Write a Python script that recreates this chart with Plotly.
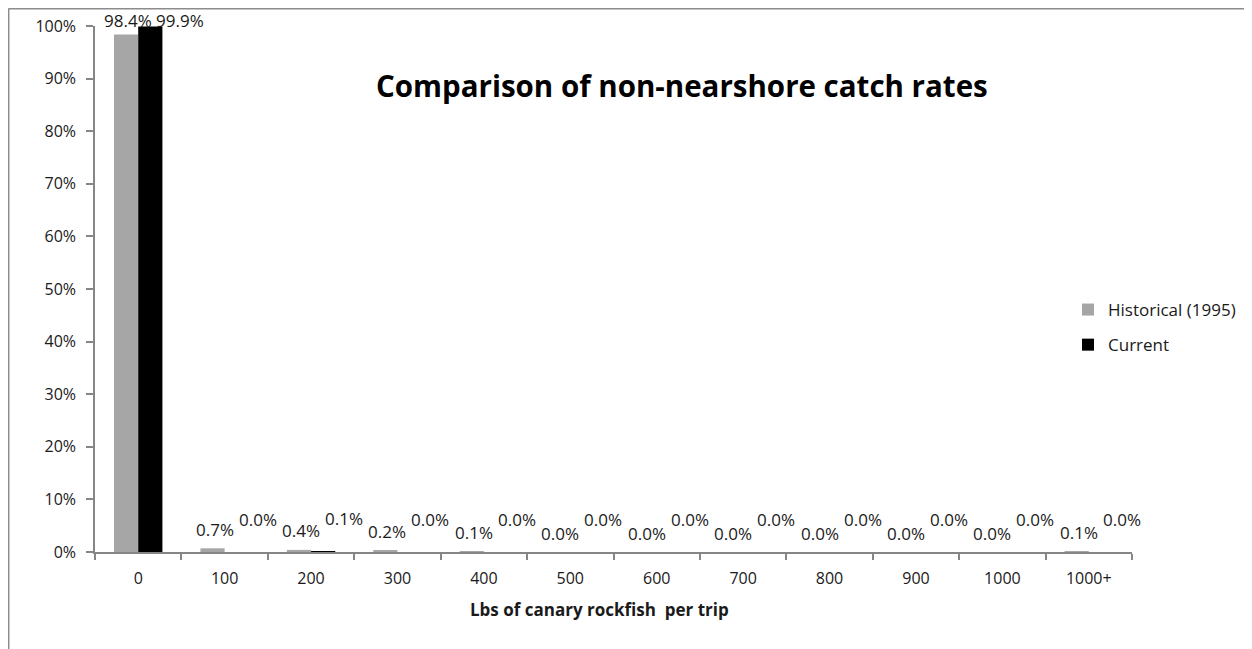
import plotly.graph_objects as go

categories = ["0", "100", "200", "300", "400", "500", "600", "700", "800", "900", "1000", "1000+"]
historical = [98.4, 0.7, 0.4, 0.2, 0.1, 0.0, 0.0, 0.0, 0.0, 0.0, 0.0, 0.1]
current = [99.9, 0.0, 0.1, 0.0, 0.0, 0.0, 0.0, 0.0, 0.0, 0.0, 0.0, 0.0]
series_names = ["Historical (1995)", "Current"]
series_colors = ["#A6A6A6", "#000000"]

FONT = "Open Sans, Lato, sans-serif"
LABEL_SIZE = 17
W, H = 1252, 649
OFF = 8  # page body margin
# plot area in page pixels: x 95..1132, y 26..552
PL, PR, PT, PB = 95, 1132, 26, 552
ML = PL - OFF
MT = PT - OFF
MR = W - (PR - OFF)
MB = H - (PB - OFF)
plot_w = PR - PL
plot_h = PB - PT
px_per_unit = plot_h / 100.0


def px_to_paper_x(px):
    return (px - PL) / plot_w


def px_to_paper_y(py):
    return (PB - py) / plot_h


def text_w(s):
    return len(s) * 0.56 * LABEL_SIZE


fig = go.Figure()
for name, vals, col in zip(series_names, [historical, current], series_colors):
    fig.add_trace(go.Bar(
        x=categories, y=vals, name=name, marker=dict(color=col, line=dict(width=0)),
        legendgroup=name,
    ))

# data labels (Excel-style, placed above each bar, nudged apart when they collide)
label_cfg = [(-10, 19), (33, 33)]  # (xshift px, preferred yshift px) per series
annotations = []
for i in range(len(categories)):
    placed = []
    for (dx, dy), vals in zip(label_cfg, [historical, current]):
        v = vals[i]
        txt = f"{v:.1f}%"
        shift = min(dy, (100 - v) * px_per_unit + 6)
        center_y = (100 - v) * px_per_unit - shift
        for (pdx, pcy, pw) in placed:
            if abs(pcy - center_y) < 18:
                min_dx = pdx + (pw + text_w(txt)) / 2 + 4
                dx = max(dx, min_dx)
        placed.append((dx, center_y, text_w(txt)))
        annotations.append(dict(
            x=i, y=v, xref="x", yref="y", text=txt, showarrow=False,
            xshift=dx, yshift=shift, yanchor="middle", xanchor="center",
            font=dict(family=FONT, size=LABEL_SIZE, color="#1a1a1a"),
        ))

annotations.append(dict(
    x=px_to_paper_x(682), y=px_to_paper_y(86), xref="paper", yref="paper",
    text="<b>Comparison of non-nearshore catch rates</b>", showarrow=False,
    xanchor="center", yanchor="middle",
    font=dict(family=FONT, size=29.5, color="#000000"),
))
annotations.append(dict(
    x=px_to_paper_x(599), y=px_to_paper_y(609), xref="paper", yref="paper",
    text="<b>Lbs of canary rockfish  per trip</b>", showarrow=False,
    xanchor="center", yanchor="middle",
    font=dict(family=FONT, size=17, color="#1a1a1a"),
))

# outer chart border (top and left edges visible)
border_col = "#8c8c8c"
shapes = [
    dict(type="line", xref="paper", yref="paper",
         x0=px_to_paper_x(8.5), x1=px_to_paper_x(W + 20), y0=px_to_paper_y(8.7), y1=px_to_paper_y(8.7),
         line=dict(color=border_col, width=1.5)),
    dict(type="line", xref="paper", yref="paper",
         x0=px_to_paper_x(8.7), x1=px_to_paper_x(8.7), y0=px_to_paper_y(8.5), y1=px_to_paper_y(H + 20),
         line=dict(color=border_col, width=1.5)),
]

fig.update_layout(
    width=W, height=H,
    margin=dict(l=ML, r=MR, t=MT, b=MB, pad=0, autoexpand=False),
    paper_bgcolor="white", plot_bgcolor="white",
    barmode="group", bargap=0.44, bargroupgap=0,
    font=dict(family=FONT, size=16, color="#1a1a1a"),
    showlegend=True,
    legend=dict(
        x=px_to_paper_x(1068), y=px_to_paper_y(292), xanchor="left", yanchor="top",
        font=dict(family=FONT, size=17, color="#1a1a1a"),
        bgcolor="rgba(0,0,0,0)", tracegroupgap=10, itemwidth=30,
    ),
    annotations=annotations,
    shapes=shapes,
)
fig.update_xaxes(
    type="category", categoryorder="array", categoryarray=categories,
    range=[-0.5, len(categories) - 0.5], automargin=False,
    showline=True, linecolor="#868686", linewidth=1.5,
    ticks="outside", tickson="boundaries", ticklen=6, tickcolor="#868686", tickwidth=1.5,
    tickfont=dict(family=FONT, size=16, color="#1a1a1a"),
    ticklabelstandoff=11,
    showgrid=False, zeroline=False,
)
fig.update_yaxes(
    range=[0, 100], dtick=10, tick0=0, ticksuffix="%", automargin=False,
    showline=True, linecolor="#868686", linewidth=1.5,
    ticks="outside", ticklen=7, tickcolor="#868686", tickwidth=1.5,
    tickfont=dict(family=FONT, size=16, color="#1a1a1a"),
    ticklabelstandoff=7,
    showgrid=False, zeroline=False,
)

fig.write_html("out.html")
